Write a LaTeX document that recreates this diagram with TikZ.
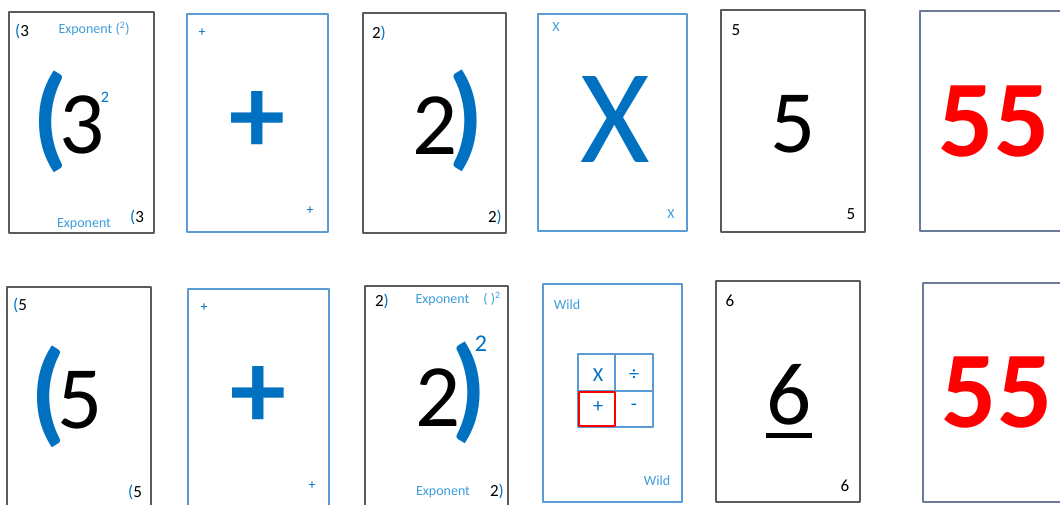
\documentclass[tikz,border=0pt]{standalone}
\usepackage{fontspec}
\setmainfont{Carlito}
\newfontfamily\heavy{Carlito-Bold.ttf}
\usepackage{xcolor}
\usetikzlibrary{positioning}
\definecolor{deckblue}{HTML}{0070C0}
\definecolor{paleblue}{HTML}{3D9DDB}
\definecolor{rimblue}{HTML}{5B9BD5}
\definecolor{rimgray}{HTML}{5A5A5A}
\definecolor{rimslate}{HTML}{6B7A99}
\definecolor{hotred}{HTML}{FF0000}
\newcommand{\fsz}[1]{\fontsize{#1}{#1}\selectfont}
\tikzset{
  every picture/.style={line join=round, x=1pt, y=-1pt},
  graycard/.style={draw=rimgray, line width=1.4pt},
  bluecard/.style={draw=rimblue, line width=1.2pt},
  slatecard/.style={draw=rimslate, line width=1.2pt},
  txt/.style={inner sep=0pt, outer sep=0pt},
  corner/.style={txt, font=\fsz{17}},
  tiny/.style={txt, font=\fsz{14}, text=deckblue},
  word/.style={txt, font=\fsz{14}, text=paleblue},
  face/.style={txt, font=\fsz{89}},
  brace/.style={txt, font=\heavy\fsz{114}, text=deckblue},
  sign/.style={txt, font=\heavy\fsz{112}, text=deckblue},
  total/.style={txt, font=\heavy\fsz{109}, text=hotred},
  cell/.style={txt, font=\fsz{20}, text=deckblue},
}
\begin{document}
\begin{tikzpicture}
\useasboundingbox (0,0) rectangle (1060,504);
% top row
\draw[graycard] (9,12) rectangle (154,233);
\draw[bluecard] (187,14) rectangle (328,232);
\draw[graycard] (363,13) rectangle (506,233);
\draw[bluecard] (538,14) rectangle (687,231);
\draw[graycard] (721,10) rectangle (865,232);
\draw[slatecard] (920,11) rectangle (1064,231);
% bottom row
\draw[graycard] (7,287) rectangle (151,508);
\draw[bluecard] (188,289) rectangle (329,508);
\draw[graycard] (365,286) rectangle (508,508);
\draw[bluecard] (543,284) rectangle (682,502);
\draw[graycard] (716,281) rectangle (860,502);
\draw[slatecard] (923,283) rectangle (1064,502);

% card (3^2
\node[corner] (a1) at (22,31) {{\color{deckblue}(}3};
\node[word] (a2) at (94,29) {Exponent (\textsuperscript{2})};
\node[brace] (a3) at (50,122) {(};
\node[face] (a4) at (82,125) {3};
\node[txt, font=\fsz{16}, text=deckblue] (a5) at (105,97) {2};
\node[word] (a6) at (84,224) {Exponent};
\node[corner] (a7) at (137,217) {{\color{deckblue}(}3};
% card +
\node[tiny] (b1) at (202,33) {+};
\node[sign] (b2) at (257,122) {+};
\node[tiny] (b3) at (310,211) {+};
% card 2)
\node[corner] (c1) at (379,33) {2{\color{deckblue})}};
\node[face] (c2) at (435,126) {2};
\node[brace] (c3) at (466,121) {)};
\node[corner] (c4) at (495,217) {2{\color{deckblue})}};
% card X
\node[word] (d1) at (556,27) {X};
\node[txt, font=\fsz{134}, text=deckblue] (d2) at (615,120) {X};
\node[word] (d3) at (671,214) {X};
% card 5
\node[corner] (e1) at (736,30) {5};
\node[face] (e2) at (793,124) {5};
\node[corner] (e3) at (851,214) {5};
% card 55
\node[total] (f1) at (994,122) {55};

% card (5
\node[corner] (g1) at (20,305) {{\color{deckblue}(}5};
\node[brace] (g2) at (48,397) {(};
\node[face] (g3) at (80,400) {5};
\node[corner] (g4) at (135,492) {{\color{deckblue}(}5};
% card +
\node[tiny] (h1) at (204,308) {+};
\node[sign] (h2) at (258,397) {+};
\node[tiny] (h3) at (312,486) {+};
% card 2)^2
\node[corner] (i1) at (382,301) {2{\color{deckblue})}};
\node[word] (i2) at (458,299) {Exponent\quad( )\textsuperscript{2}};
\node[face] (i3) at (438,398) {2};
\node[brace] (i4) at (469,393) {)};
\node[txt, font=\fsz{24}, text=deckblue] (i5) at (481,344) {2};
\node[word] (i6) at (443,492) {Exponent};
\node[corner] (i7) at (497,491) {2{\color{deckblue})}};
% card wild
\node[word] (j1) at (567,305) {Wild};
\node[word] (j2) at (657,481) {Wild};
\draw[draw=rimblue, line width=1.1pt] (578,354) rectangle (653,427)
  (615,354) -- (615,427) (578,391) -- (653,391);
\draw[draw=hotred, line width=2.6pt] (579,392) rectangle (615,426);
\node[cell] (j3) at (598,375) {X};
\node[cell] (j4) at (634,375) {÷};
\node[cell] (j5) at (598,407) {+};
\node[cell] (j6) at (634,407) {-};
% card 6
\node[corner] (k1) at (730,301) {6};
\node[face] (k2) at (789,395) {6};
\draw[line width=5pt] (766,435) -- (812,435);
\node[corner] (k3) at (845,486) {6};
% card 55
\node[total] (l1) at (997,393) {55};
\end{tikzpicture}
\end{document}
